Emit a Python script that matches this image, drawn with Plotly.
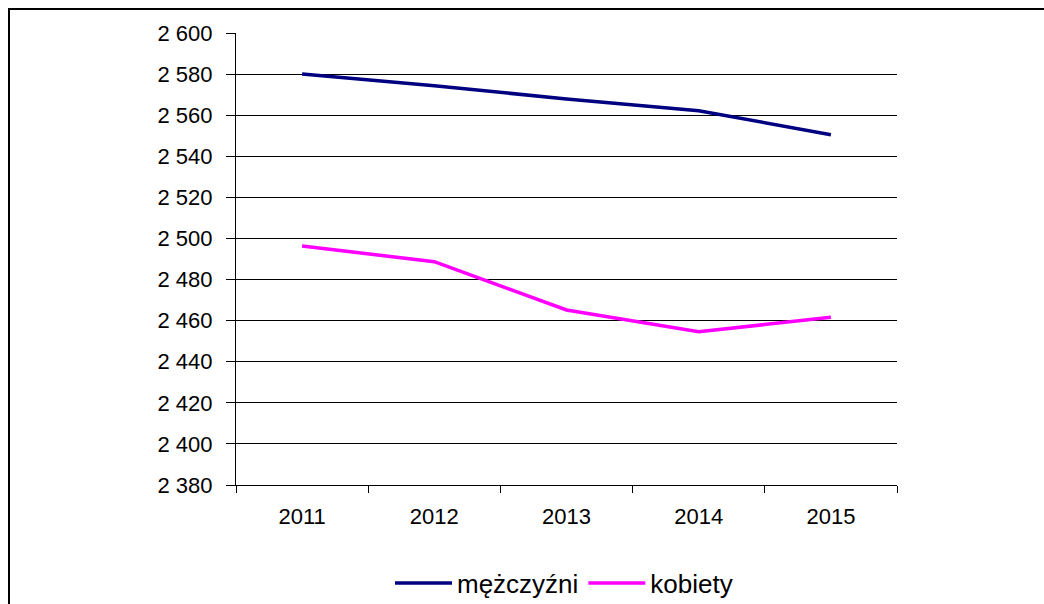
import plotly.graph_objects as go

years = ["2011", "2012", "2013", "2014", "2015"]
men = [2580.0, 2574.3, 2567.9, 2562.2, 2550.5]
women = [2496.3, 2488.7, 2465.2, 2454.6, 2461.6]
series_names = ["mężczyźni", "kobiety"]
colors = ["#000080", "#FF00FF"]

W, H = 1044, 604
L, R, T, B = 236, 897, 33, 485

fig = go.Figure()
for name, vals, col in zip(series_names, [men, women], colors):
    fig.add_trace(go.Scatter(x=years, y=vals, mode="lines", name=name,
                             line=dict(color=col, width=3.5)))

def px_x(p):
    return (p - L) / (R - L)

def px_y(p):
    return (B - p) / (B - T)

fig.add_shape(type="rect", xref="paper", yref="paper",
              x0=px_x(9), x1=px_x(1200), y0=px_y(900), y1=px_y(9),
              line=dict(color="black", width=2), fillcolor="rgba(0,0,0,0)")

fig.update_layout(
    width=W, height=H,
    margin=dict(l=L, r=W - R, t=T, b=H - B, pad=0, autoexpand=False),
    paper_bgcolor="white", plot_bgcolor="white",
    font=dict(family="Liberation Sans, Arial, sans-serif", color="black", size=22),
    separators=", ",
    showlegend=True,
    legend=dict(orientation="h", x=px_x(564), xanchor="center",
                y=px_y(583), yanchor="middle",
                font=dict(size=26), itemwidth=57, tracegroupgap=0),
    xaxis=dict(type="category", range=[-0.5, 4.5], showgrid=False,
               showline=True, linecolor="black", linewidth=1.3,
               ticks="outside", tickson="boundaries", ticklen=7,
               tickcolor="black", tickwidth=1.3,
               ticklabelstandoff=11, tickfont=dict(size=22)),
    yaxis=dict(range=[2380, 2600], dtick=20, tick0=2380, tickformat=",d",
               showgrid=True, gridcolor="black", gridwidth=1.3,
               showline=True, linecolor="black", linewidth=1.3,
               ticks="outside", ticklen=9, tickcolor="black", tickwidth=1.3,
               ticklabelstandoff=9, tickfont=dict(size=22), zeroline=False),
)

fig.write_html("out.html", config={"displayModeBar": False},
               post_script="document.body.style.margin='0';")
